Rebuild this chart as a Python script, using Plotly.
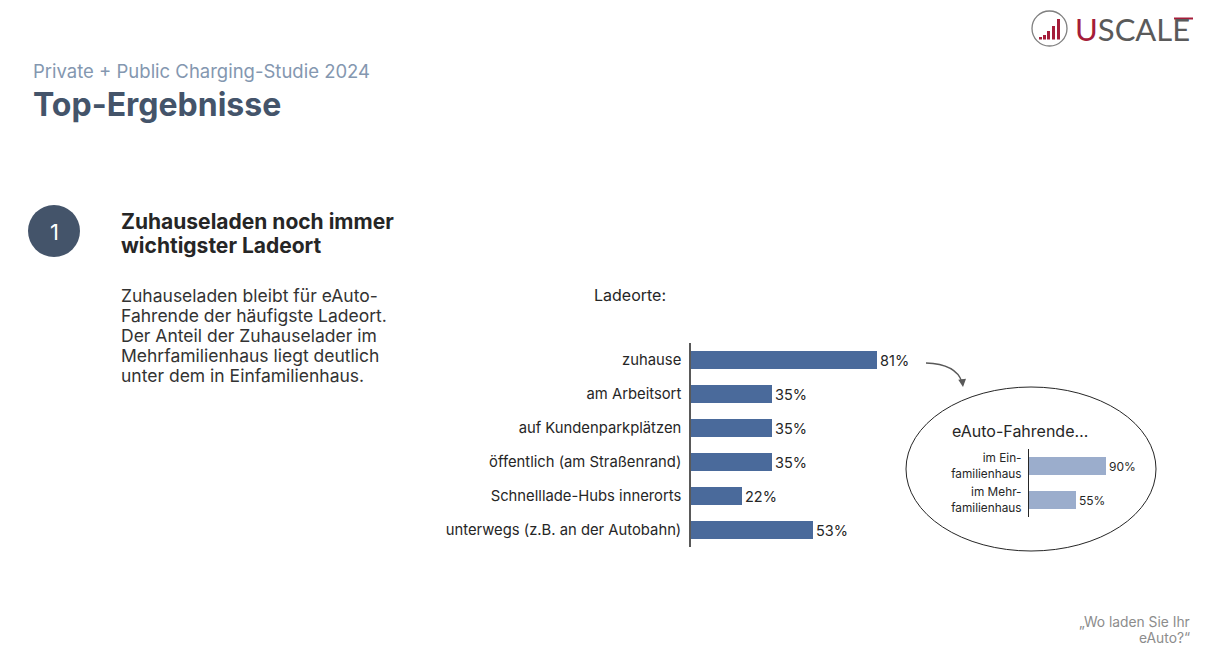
import plotly.graph_objects as go

W, H = 1216, 658

# ---- data ----
categories = ["zuhause", "am Arbeitsort", "auf Kundenparkplätzen", "öffentlich (am Straßenrand)",
              "Schnelllade-Hubs innerorts", "unterwegs (z.B. an der Autobahn)"]
values = [81, 35, 35, 35, 22, 53]
inset_categories = ["im Ein-<br>familienhaus", "im Mehr-<br>familienhaus"]
inset_values = [90, 55]

heading_lines = ["Zuhauseladen noch immer", "wichtigster Ladeort"]
body_lines = ["Zuhauseladen bleibt für eAuto-", "Fahrende der häufigste Ladeort.",
              "Der Anteil der Zuhauselader im", "Mehrfamilienhaus liegt deutlich",
              "unter dem in Einfamilienhaus."]
footnote_lines = ["„Wo laden Sie Ihr", "eAuto?“"]

FONT = "Inter, Noto Sans, sans-serif"
MAIN_BAR = "#4a6a9b"
INSET_BAR = "#9badcc"


def px(x):
    return x / W


def py(y):
    return 1 - y / H


fig = go.Figure()

fig.add_trace(go.Bar(
    x=values, y=categories, orientation="h",
    marker=dict(color=MAIN_BAR, line=dict(width=0)),
    width=0.53,
    text=[f"{v}%" for v in values], textposition="outside",
    textfont=dict(family=FONT, size=14.5, color="#262626"),
    cliponaxis=False, xaxis="x", yaxis="y", hoverinfo="skip",
))

fig.add_trace(go.Bar(
    x=inset_values, y=inset_categories, orientation="h",
    marker=dict(color=INSET_BAR, line=dict(width=0)),
    width=0.53,
    text=[f"{v}%" for v in inset_values], textposition="outside",
    textfont=dict(family=FONT, size=12, color="#262626"),
    cliponaxis=False, xaxis="x2", yaxis="y2", hoverinfo="skip",
))

fig.update_layout(
    width=W, height=H,
    margin=dict(l=0, r=0, t=0, b=0),
    paper_bgcolor="white", plot_bgcolor="white",
    showlegend=False,
    font=dict(family=FONT, color="#262626"),
    bargap=0,
    xaxis=dict(domain=[px(691), px(691 + 230)], range=[0, 100], visible=False, fixedrange=True),
    yaxis=dict(domain=[py(547), py(343)], range=[5.5, -0.5], type="category",
               categoryorder="array", categoryarray=categories,
               showline=True, linecolor="#595959", linewidth=1.5, showgrid=False,
               ticks="", ticklabelstandoff=5,
               tickfont=dict(family=FONT, size=14.8, color="#262626"), fixedrange=True),
    xaxis2=dict(domain=[px(1029), px(1029 + 85.5)], range=[0, 100], visible=False,
                anchor="y2", fixedrange=True),
    yaxis2=dict(domain=[py(517), py(449)], range=[1.5, -0.5], type="category",
                categoryorder="array", categoryarray=inset_categories, anchor="x2",
                showline=True, linecolor="#262626", linewidth=1.2, showgrid=False,
                ticks="", ticklabelstandoff=4,
                tickfont=dict(family=FONT, size=11.8, color="#262626"), fixedrange=True),
)

shapes = []
# number circle
shapes.append(dict(type="circle", xref="paper", yref="paper",
                   x0=px(28), x1=px(80), y0=py(257), y1=py(205),
                   fillcolor="#44546a", line=dict(width=0), layer="below"))
# ellipse around inset
shapes.append(dict(type="circle", xref="paper", yref="paper",
                   x0=px(906), x1=px(1156), y0=py(551), y1=py(387),
                   line=dict(color="#262626", width=1), layer="below"))
# curved arrow
shapes.append(dict(type="path", xref="paper", yref="paper",
                   path=f"M {px(926)} {py(363)} Q {px(956)} {py(364)} {px(962)} {py(382)}",
                   line=dict(color="#595959", width=1.3)))
# logo circle
shapes.append(dict(type="circle", xref="paper", yref="paper",
                   x0=px(1032), x1=px(1067), y0=py(46), y1=py(11),
                   line=dict(color="#7f7f7f", width=1.3)))
# logo bars
for x0, top in [(1039, 37), (1043, 35), (1047, 31), (1052, 26), (1057, 19)]:
    shapes.append(dict(type="rect", xref="paper", yref="paper",
                       x0=px(x0), x1=px(x0 + 3), y0=py(39.5), y1=py(top),
                       fillcolor="#a51d3a", line=dict(width=0)))
# red bar on logo 'E'
shapes.append(dict(type="rect", xref="paper", yref="paper",
                   x0=px(1174), x1=px(1193), y0=py(19.5), y1=py(17.5),
                   fillcolor="#a51d3a", line=dict(width=0)))
fig.update_layout(shapes=shapes)

ann = []


def txt(x, y, s, size, color="#262626", xanchor="left", bold=False, family=FONT):
    ann.append(dict(x=px(x), y=py(y), xref="paper", yref="paper", text=(f"<b>{s}</b>" if bold else s),
                    showarrow=False, xanchor=xanchor, yanchor="middle", align=xanchor if xanchor != "center" else "center",
                    font=dict(family=family, size=size, color=color)))


txt(31, 71, "Private + Public Charging-Studie 2024", 18.5, "#8497b0")
txt(31, 104, "Top-Ergebnisse", 32, "#44546a", bold=True)
txt(54, 232, "1", 22, "white", xanchor="center")
for i, line in enumerate(heading_lines):
    txt(119, 222 + 23 * i, line, 21, "#262626", bold=True)
for i, line in enumerate(body_lines):
    txt(119, 296 + 19.75 * i, line, 17.5, "#333333")
txt(592, 295, "Ladeorte:", 16)
txt(950, 431, "eAuto-Fahrende…", 16)
for i, line in enumerate(footnote_lines):
    txt(1192, 622 + 16 * i, line, 13.8, "#8c8c8c", xanchor="right")
# logo text
ann.append(dict(x=px(1073), y=py(29), xref="paper", yref="paper",
                text="<span style='color:#a51d3a'>U</span>SCALE", showarrow=False,
                xanchor="left", yanchor="middle",
                font=dict(family="Lato, Inter, sans-serif", size=31, color="#5a5a5a")))
# arrowhead
ann.append(dict(x=px(963), y=py(387), xref="paper", yref="paper", text="",
                showarrow=True, ax=-1, ay=-9, arrowhead=2, arrowsize=1.2,
                arrowwidth=1.3, arrowcolor="#595959"))
fig.update_layout(annotations=ann)

fig.write_html("out.html", config={"displayModeBar": False},
               post_script="document.body.style.margin='0px';")
